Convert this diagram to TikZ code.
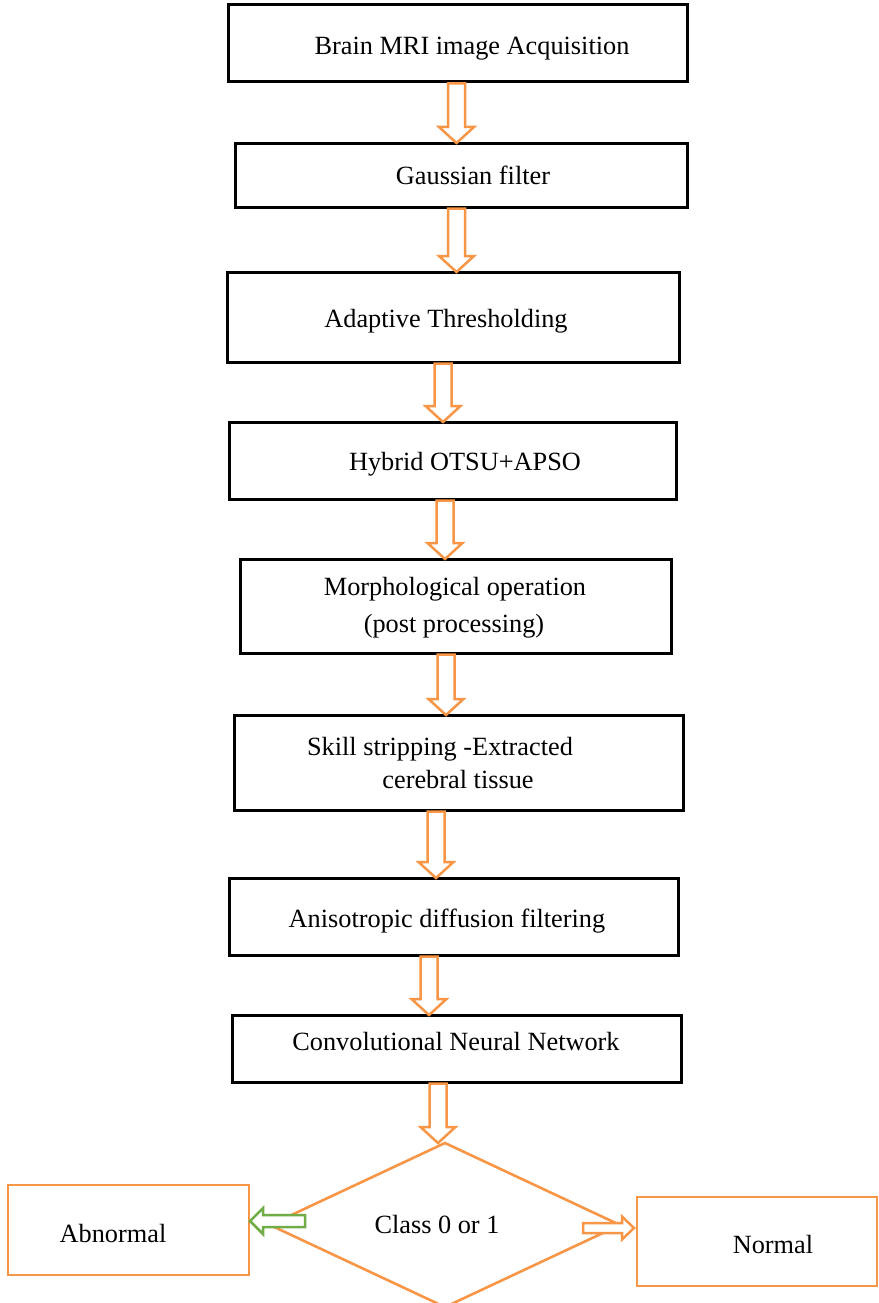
\documentclass[tikz,border=0pt]{standalone}
\usepackage{fontspec}
\setmainfont{Liberation Serif}
\usetikzlibrary{calc,shapes.geometric}
\definecolor{acc}{HTML}{F79646}
\definecolor{grn}{HTML}{70AD47}
\tikzset{
  box/.style={draw=black, line width=3pt, inner sep=0pt, outer sep=0pt, rectangle},
  obox/.style={draw=acc, line width=2.6pt, inner sep=0pt, outer sep=0pt, rectangle},
  lbl/.style={font=\fontsize{26.3}{30}\selectfont, anchor=base, inner sep=0pt, outer sep=0pt},
  blk/.style={draw=acc, line width=2.5pt, fill=white, line join=miter},
  gblk/.style={draw=grn, line width=2.5pt, fill=white, line join=miter},
}
% vertical hollow block arrow from node #1 (south) to node #2 (north) at x=#3
\newcommand{\vblk}[3]{%
  \draw[blk] let \p1=(#1.south), \p2=(#2.north) in
    ({(#3-8.5)*1pt},{\y1-1.5pt}) -- ({(#3-8.5)*1pt},{\y2+16pt}) --
    ({(#3-17.5)*1pt},{\y2+16pt}) -- ({#3*1pt},{\y2}) --
    ({(#3+17.5)*1pt},{\y2+16pt}) -- ({(#3+8.5)*1pt},{\y2+16pt}) --
    ({(#3+8.5)*1pt},{\y1-1.5pt}) -- cycle;}
\begin{document}
\begin{tikzpicture}[x=1pt,y=-1pt]
\useasboundingbox (0,0) rectangle (878,1303);
\fill[white] (0,0) rectangle (878,1303);
% process boxes
\node[box, minimum width=459pt, minimum height=77pt] (b1) at (457.5,43.5) {};
\node[box, minimum width=452pt, minimum height=64pt] (b2) at (461,175) {};
\node[box, minimum width=452pt, minimum height=90pt] (b3) at (453,317) {};
\node[box, minimum width=447pt, minimum height=77pt] (b4) at (452.5,460.5) {};
\node[box, minimum width=431pt, minimum height=94pt] (b5) at (455.5,606) {};
\node[box, minimum width=449pt, minimum height=95pt] (b6) at (458.5,762.5) {};
\node[box, minimum width=449pt, minimum height=77pt] (b7) at (453.5,916.5) {};
\node[box, minimum width=449pt, minimum height=67pt] (b8) at (456.5,1048.5) {};
% decision and outcomes
\node[diamond, draw=acc, line width=2.6pt, minimum width=350pt, minimum height=164pt, inner sep=0pt, outer sep=0pt] (dia) at (445,1225) {};
\node[obox, minimum width=241pt, minimum height=90pt] (abn) at (128.5,1230) {};
\node[obox, minimum width=240pt, minimum height=89pt] (nor) at (757,1241.5) {};
% texts
\node[lbl] (t1) at (472,55) {Brain MRI image Acquisition};
\node[lbl] (t2) at (473,184) {Gaussian filter};
\node[lbl] (t3) at (446,327) {Adaptive Thresholding};
\node[lbl] (t4) at (465,470) {Hybrid OTSU+APSO};
\node[lbl] (t5a) at (455,595) {Morphological operation};
\node[lbl] (t5b) at (454,632) {(post processing)};
\node[lbl] (t6a) at (440,755) {Skill stripping -Extracted};
\node[lbl] (t6b) at (458,788) {cerebral tissue};
\node[lbl] (t7) at (447,927) {Anisotropic diffusion filtering};
\node[lbl] (t8) at (456,1050) {Convolutional Neural Network};
\node[lbl] (t9) at (437,1233) {Class 0 or 1};
\node[lbl] (t10) at (113,1242) {Abnormal};
\node[lbl] (t11) at (773,1253) {Normal};
% down arrows
\vblk{b1}{b2}{456.5}
\vblk{b2}{b3}{456.5}
\vblk{b3}{b4}{443}
\vblk{b4}{b5}{445}
\vblk{b5}{b6}{446}
\vblk{b6}{b7}{436}
\vblk{b7}{b8}{429}
\vblk{b8}{dia}{438}
% left (green) arrow to Abnormal
\draw[gblk] let \p1=(abn.east) in
  ({\x1+56pt},-1215pt) -- ({\x1+14pt},-1215pt) -- ({\x1+14pt},-1208pt) --
  ({\x1+1pt},-1221pt) -- ({\x1+14pt},-1234pt) -- ({\x1+14pt},-1227pt) --
  ({\x1+56pt},-1227pt) -- cycle;
% right (orange) arrow to Normal
\draw[blk] let \p1=(nor.west) in
  ({\x1-54pt},-1223pt) -- ({\x1-15pt},-1223pt) -- ({\x1-15pt},-1216.5pt) --
  ({\x1-3pt},-1228pt) -- ({\x1-15pt},-1239.5pt) -- ({\x1-15pt},-1233pt) --
  ({\x1-54pt},-1233pt) -- cycle;
\end{tikzpicture}
\end{document}
